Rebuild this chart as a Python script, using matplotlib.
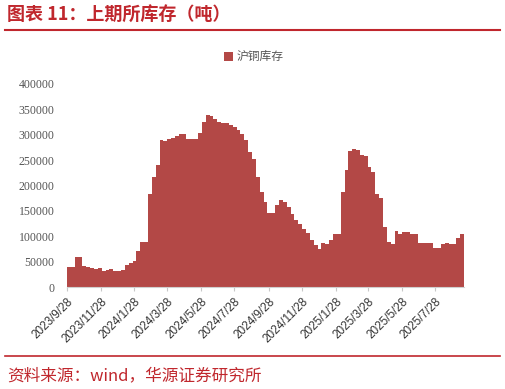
import matplotlib
matplotlib.use("Agg")
import matplotlib.pyplot as plt
import numpy as np
import pandas as pd

plt.rcParams['font.family'] = ['Noto Sans CJK SC', 'DejaVu Sans']

# weekly SHFE copper inventory (tons)
start = "2023-09-28"
inventory = [
    40000, 40000, 59000, 60000, 42000, 40000, 37000, 35000, 36500, 31000,
    34000, 35000, 31000, 32000, 34000, 44000, 48000, 52000, 71000, 88000,
    88000, 184000, 217000, 240000, 289000, 287000, 291000, 293000, 297000, 301000,
    301000, 291000, 291000, 292000, 303000, 325000, 338000, 336000, 331000, 326000,
    324000, 323000, 319000, 315000, 309000, 302000, 289000, 266000, 252000, 217000,
    188000, 168000, 145000, 145000, 161000, 171000, 168000, 158000, 143000, 133000,
    125000, 115000, 106000, 92000, 83000, 75000, 86000, 84000, 92000, 104000,
    105000, 188000, 230000, 268000, 271000, 270000, 260000, 259000, 237000, 227000,
    184000, 175000, 119000, 89000, 84000, 111000, 105000, 108000, 108000, 104000,
    104000, 86000, 86000, 87000, 87000, 76000, 76000, 84000, 87000, 84000,
    84000, 96000, 105000,
]
tick_labels = ["2023/9/28", "2023/11/28", "2024/1/28", "2024/3/28", "2024/5/28",
               "2024/7/28", "2024/9/28", "2024/11/28", "2025/1/28", "2025/3/28",
               "2025/5/28", "2025/7/28"]
series_name = "沪铜库存"
title = "图表 11：上期所库存（吨）"
source = "资料来源：wind，华源证券研究所"

red = "#C0272D"
bar_color = "#B34846"

dates = pd.date_range(start, periods=len(inventory), freq="7D")

fig = plt.figure(figsize=(5.06, 3.89), dpi=100)
ax = fig.add_axes([67 / 506, 1 - 287 / 389, (464 - 67) / 506, (287 - 84) / 389])

ax.bar(dates, inventory, width=7, align="edge", color=bar_color, linewidth=0,
       label=series_name)

ax.set_xlim(dates[0], dates[-1] + pd.Timedelta(days=7))
ax.set_ylim(0, 400000)
ax.set_yticks(np.arange(0, 400001, 50000))
ax.set_yticklabels([str(v) for v in range(0, 400001, 50000)])
ax.tick_params(axis="y", length=0, pad=9)

ticks = [pd.Timestamp(t.replace("/", "-")) for t in tick_labels]
ax.set_xticks(ticks)
ax.set_xticklabels(tick_labels, rotation=45, ha="right", va="top",
                   rotation_mode="anchor")
ax.tick_params(axis="x", length=3, color="#c8c8c8", pad=3)

for lab in ax.get_yticklabels():
    lab.set_fontfamily(["Liberation Serif"])
    lab.set_fontsize(8.5)
    lab.set_color("#555555")
for lab in ax.get_xticklabels():
    lab.set_fontfamily(["Liberation Sans"])
    lab.set_fontsize(8.5)
    lab.set_color("#333333")

for s in ["top", "right", "left"]:
    ax.spines[s].set_visible(False)
ax.spines["bottom"].set_color("#d0d0d0")

leg = ax.legend(loc="lower center", bbox_to_anchor=(0.47, 1.05), frameon=False,
                handlelength=0.8, handleheight=0.8, handletextpad=0.3,
                prop={"family": "Noto Sans CJK SC", "size": 8.5})
for t in leg.get_texts():
    t.set_color("#555555")

fig.text(7 / 506, 1 - 15 / 389, title, fontsize=13, color=red,
         fontweight="bold", va="center", ha="left")
fig.add_artist(plt.Line2D([5 / 506, 500 / 506], [1 - 30 / 389] * 2,
                          color=red, linewidth=1.5))
fig.add_artist(plt.Line2D([5 / 506, 500 / 506], [1 - 356 / 389] * 2,
                          color=red, linewidth=1.2))
fig.text(7 / 506, 1 - 376 / 389, source, fontsize=12, color=red,
         va="center", ha="left")

fig.savefig("out.png", dpi=100)
